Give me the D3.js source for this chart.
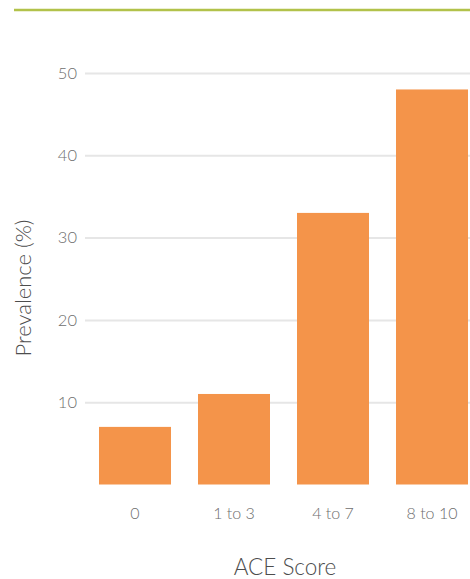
<!DOCTYPE html>
<html lang="en">
<head>
    <meta charset="UTF-8">
    <title>ACE Score Prevalence</title>
    <style>
        html, body { margin: 0; padding: 0; background: #fff; }
        text { font-family: "Lato", "Open Sans", sans-serif; }
    </style>
</head>
<body>
    <div id="chart"></div>
    <script src="https://d3js.org/d3.v7.min.js"></script>
    <script>
    const categories = ["0", "1 to 3", "4 to 7", "8 to 10"];
    const prevalence = [7, 11, 33, 48];
    const yTicks = [10, 20, 30, 40, 50];

    const W = 470, H = 579;
    const svg = d3.select("#chart").append("svg")
        .attr("width", W).attr("height", H);

    // green rule across the top
    svg.append("line")
        .attr("x1", 14).attr("x2", W)
        .attr("y1", 10).attr("y2", 10)
        .attr("stroke", "#b2c24a").attr("stroke-width", 2.5);

    const x = d3.scaleBand()
        .domain(categories)
        .range([85.5, 481.5])
        .paddingInner(0.2727)
        .paddingOuter(0.1364);

    const y = d3.scaleLinear()
        .domain([0, 50])
        .range([484.5, 73]);

    // gridlines + labels
    const yAxis = svg.append("g")
        .attr("transform", "translate(85,0)")
        .call(d3.axisLeft(y).tickValues(yTicks).tickSize(-(W - 85)).tickPadding(8));
    yAxis.select(".domain").remove();
    yAxis.selectAll(".tick line").attr("stroke", "#e6e6e6").attr("stroke-width", 2);
    yAxis.selectAll(".tick text")
        .attr("fill", "#6e6e6e").style("font-size", "16.5px").style("font-weight", 300);

    svg.append("g").selectAll("rect")
        .data(prevalence)
        .join("rect")
        .attr("x", (d, i) => x(categories[i]))
        .attr("width", x.bandwidth())
        .attr("y", d => y(d))
        .attr("height", d => y(0) - y(d))
        .attr("fill", "#f4944a");

    const xAxis = svg.append("g")
        .attr("transform", `translate(0,${y(0)})`)
        .call(d3.axisBottom(x).tickSize(0).tickPadding(23));
    xAxis.select(".domain").remove();
    xAxis.selectAll(".tick text")
        .attr("fill", "#6e6e6e").style("font-size", "16px").style("font-weight", 300);

    svg.append("text")
        .attr("x", 285).attr("y", 575)
        .attr("text-anchor", "middle")
        .attr("fill", "#4d4d4d").style("font-size", "22.5px").style("font-weight", 300)
        .text("ACE Score");

    svg.append("text")
        .attr("transform", "translate(31,288) rotate(-90)")
        .attr("text-anchor", "middle")
        .attr("fill", "#4d4d4d").style("font-size", "22px").style("font-weight", 300)
        .text("Prevalence (%)");
    </script>
</body>
</html>
